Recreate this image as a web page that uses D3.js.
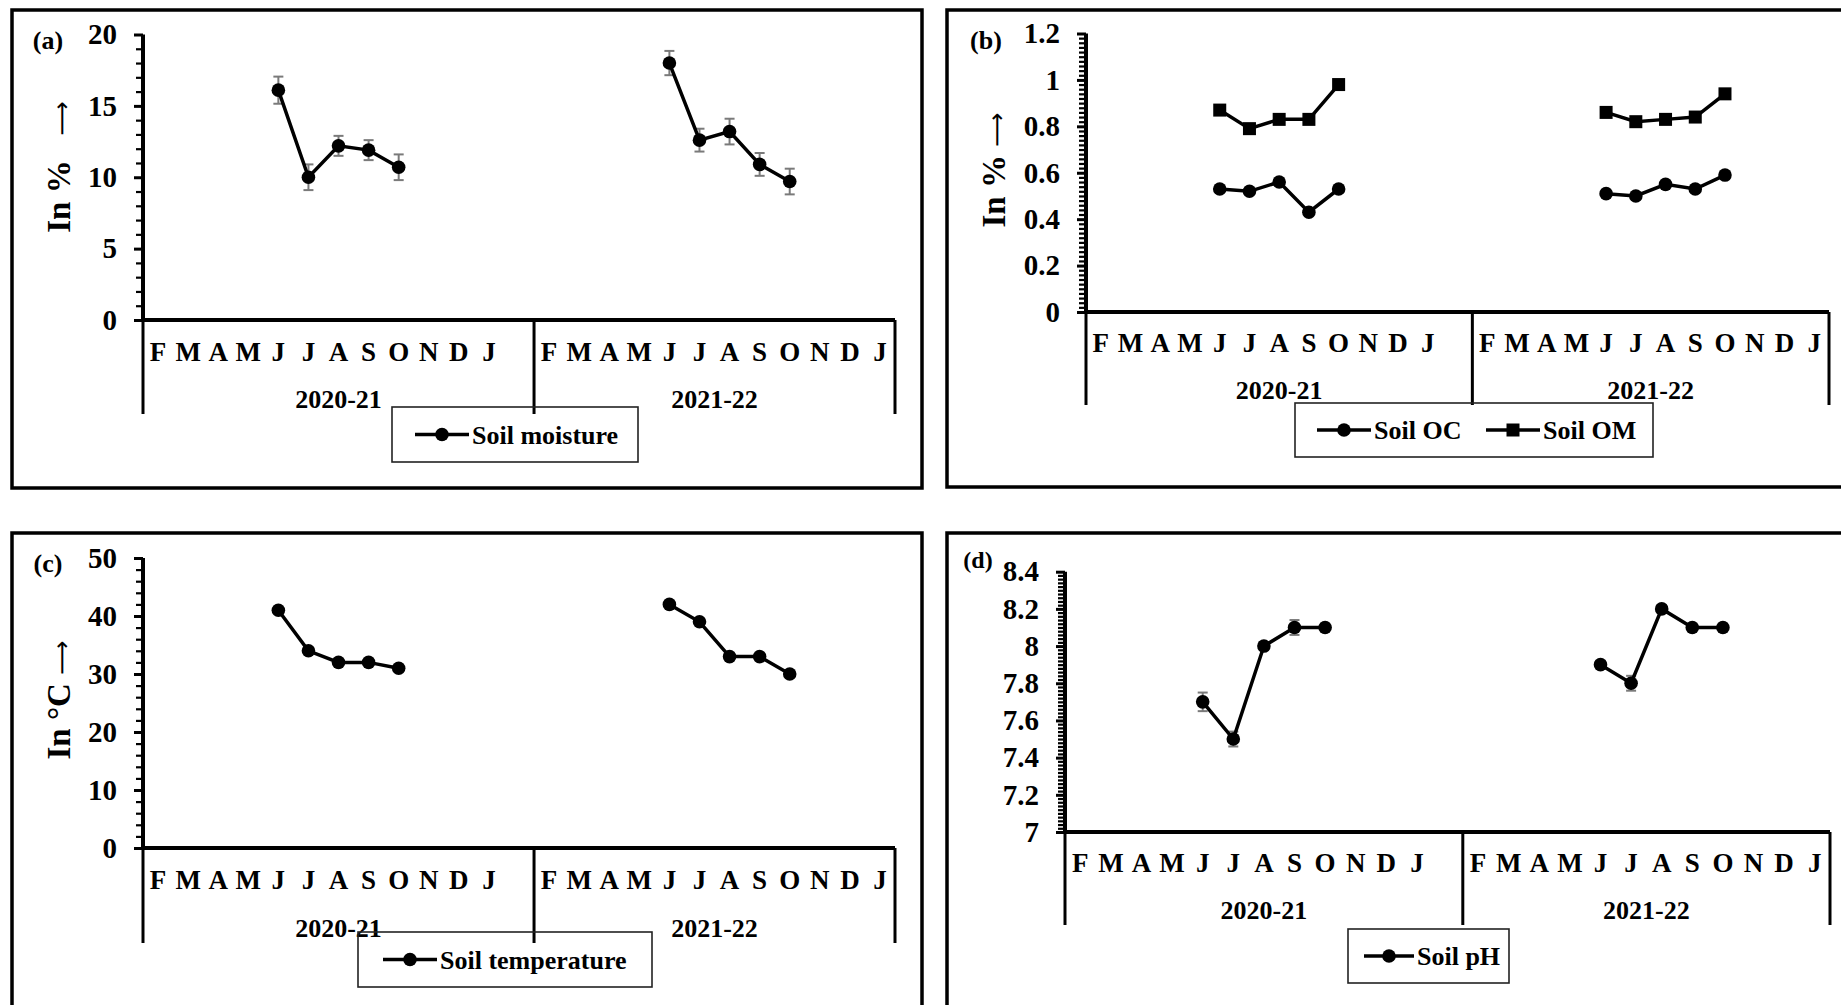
<!DOCTYPE html>
<html><head><meta charset="utf-8">
<script src="https://cdn.jsdelivr.net/npm/d3@7"></script>
<style>
body{margin:0;background:#fff}
svg{display:block}
text{font-family:"Liberation Serif","Times New Roman",serif;font-weight:bold;fill:#000}
</style>
</head><body>
<svg id="chart" width="1841" height="1005"></svg>
<script>
// ---------------- DATA ----------------
const seasons = ["2020-21", "2021-22"];
const months2020 = ["F","M","A","M","J","J","A","S","O","N","D","J",""];
const months2021 = ["F","M","A","M","J","J","A","S","O","N","D","J"];
const sampledMonthIndex = [4, 5, 6, 7, 8]; // June .. October in each season

const moisture2020 = [16.1, 10.0, 12.2, 11.9, 10.7];
const moisture2021 = [18.0, 12.6, 13.2, 10.9, 9.7];
const moistureErr2020 = [0.95, 0.9, 0.7, 0.7, 0.9];
const moistureErr2021 = [0.85, 0.8, 0.9, 0.8, 0.9];

const oc2020 = [0.53, 0.52, 0.56, 0.43, 0.53];
const oc2021 = [0.51, 0.50, 0.55, 0.53, 0.59];
const om2020 = [0.87, 0.79, 0.83, 0.83, 0.98];
const om2021 = [0.86, 0.82, 0.83, 0.84, 0.94];

const temp2020 = [41, 34, 32, 32, 31];
const temp2021 = [42, 39, 33, 33, 30];

const ph2020 = [7.7, 7.5, 8.0, 8.1, 8.1];
const ph2021 = [7.9, 7.8, 8.2, 8.1, 8.1];
const phErr2020 = [0.05, 0.04, 0.02, 0.04, 0.02];
const phErr2021 = [0.02, 0.04, 0.02, 0.02, 0.02];

const ticksA = [0, 5, 10, 15, 20];
const ticksB = [0, 0.2, 0.4, 0.6, 0.8, 1, 1.2];
const ticksC = [0, 10, 20, 30, 40, 50];
const ticksD = [7, 7.2, 7.4, 7.6, 7.8, 8, 8.2, 8.4];

// ---------------- LAYOUT ----------------
const svg = d3.select("#chart");
const FONT_TICK = 29, FONT_MONTH = 27, FONT_YEAR = 26, FONT_LEG = 26, FONT_TITLE = 33;

const panels = [
  { label:"(a)", labelX:48, labelY:40, labelSize:26,
    box:[12,10,922,488], ax:143, x1:895, yTop:34.5, y0:320,
    domain:[0,20], major:ticksA, minorStep:1, lineBottom:414, monthY:352, yearY:399,
    title:"In %   ", titleX:58, titleY:167,
    legendBox:[392,407,638,462],
    series:[{name:"Soil moisture", shape:"circle", v:[moisture2020, moisture2021], e:[moistureErr2020, moistureErr2021], legX:415, legLen:54}] },
  { label:"(b)", labelX:986, labelY:40, labelSize:26,
    box:[947,10,1852,487], ax:1086, x1:1829, yTop:33.5, y0:312,
    domain:[0,1.2], major:ticksB, minorStep:0.02, lineBottom:405, monthY:343, yearY:390,
    title:"In % ", titleX:993, titleY:170,
    legendBox:[1295,403,1653,457],
    series:[{name:"Soil OC", shape:"circle", v:[oc2020, oc2021], e:null, legX:1317, legLen:54},
            {name:"Soil OM", shape:"square", v:[om2020, om2021], e:null, legX:1486, legLen:54}] },
  { label:"(c)", labelX:48, labelY:563, labelSize:26,
    box:[12,533,922,1030], ax:143, x1:895, yTop:558, y0:848,
    domain:[0,50], major:ticksC, minorStep:2, lineBottom:943, monthY:880, yearY:928,
    title:"In \u00B0C ", titleX:58, titleY:700,
    legendBox:[358,932,652,987],
    series:[{name:"Soil temperature", shape:"circle", v:[temp2020, temp2021], e:null, legX:383, legLen:54}] },
  { label:"(d)", labelX:978, labelY:560, labelSize:24,
    box:[947,533,1852,1030], ax:1065, x1:1830, yTop:571.7, y0:832,
    domain:[7,8.4], major:ticksD, minorStep:0.02, lineBottom:925, monthY:863, yearY:910,
    title:null,
    legendBox:[1348,929,1509,983],
    series:[{name:"Soil pH", shape:"circle", v:[ph2020, ph2021], e:[phErr2020, phErr2021], legX:1364, legLen:50}] }
];

const fmt = d => String(+(+d).toFixed(2));

function drawMarker(g, shape, cx, cy) {
  if (shape === "square") {
    g.append("rect").attr("x", cx-6.5).attr("y", cy-6.5).attr("width", 13).attr("height", 13).attr("fill", "#000");
  } else {
    g.append("circle").attr("cx", cx).attr("cy", cy).attr("r", 6.8).attr("fill", "#000");
  }
}

panels.forEach(p => {
  const g = svg.append("g");
  g.append("rect").attr("x", p.box[0]).attr("y", p.box[1])
    .attr("width", p.box[2]-p.box[0]).attr("height", p.box[3]-p.box[1])
    .attr("fill", "none").attr("stroke", "#000").attr("stroke-width", 3.5);

  const keys = [];
  months2020.forEach((m,i) => keys.push(seasons[0]+"|"+i));
  months2021.forEach((m,i) => keys.push(seasons[1]+"|"+i));
  const x = d3.scaleBand().domain(keys).range([p.ax, p.x1]).padding(0);
  const y = d3.scaleLinear().domain(p.domain).range([p.y0, p.yTop]);

  const n = Math.round((p.domain[1]-p.domain[0])/p.minorStep);
  const minors = d3.range(0, n+1).map(i => +(p.domain[0] + i*p.minorStep).toFixed(4))
    .filter(v => !p.major.some(m => Math.abs(m-v) < 1e-6));
  const minorAxis = g.append("g").attr("transform", `translate(${p.ax},0)`)
    .call(d3.axisLeft(y).tickValues(minors).tickSize(7).tickFormat(""));
  minorAxis.select(".domain").remove();
  minorAxis.selectAll(".tick line").attr("stroke", "#000").attr("stroke-width", 2.2);

  const majorAxis = g.append("g").attr("transform", `translate(${p.ax},0)`)
    .call(d3.axisLeft(y).tickValues(p.major).tickSize(9).tickPadding(17).tickFormat(fmt));
  majorAxis.select(".domain").attr("stroke", "#000").attr("stroke-width", 4)
    .attr("d", `M0,${p.y0}V${p.yTop}`);
  majorAxis.selectAll(".tick line").attr("stroke", "#000").attr("stroke-width", 3);
  majorAxis.selectAll(".tick text").attr("font-size", FONT_TICK)
    .attr("font-family", '"Liberation Serif","Times New Roman",serif').attr("font-weight", "bold").attr("fill", "#000");

  const xAxis = g.append("g").attr("transform", `translate(0,${p.y0})`)
    .call(d3.axisBottom(x).tickSize(0).tickFormat(""));
  xAxis.select(".domain").attr("stroke", "#000").attr("stroke-width", 4).attr("d", `M${p.ax},0H${p.x1}`);
  const sepX = [p.ax, x(seasons[1]+"|0"), p.x1];
  g.selectAll(null).data(sepX).enter().append("line")
    .attr("x1", d => d).attr("x2", d => d).attr("y1", p.y0).attr("y2", p.lineBottom)
    .attr("stroke", "#000").attr("stroke-width", 3);

  const monthData = [];
  months2020.forEach((m,i) => monthData.push({k:seasons[0]+"|"+i, m}));
  months2021.forEach((m,i) => monthData.push({k:seasons[1]+"|"+i, m}));
  g.selectAll(null).data(monthData).enter().append("text")
    .attr("x", d => x(d.k) + x.bandwidth()/2).attr("y", p.monthY).attr("dy", "0.35em")
    .attr("text-anchor", "middle").attr("font-size", FONT_MONTH).text(d => d.m);

  const groups = [
    {s:seasons[0], a:p.ax, b:x(seasons[1]+"|0")},
    {s:seasons[1], a:x(seasons[1]+"|0"), b:p.x1}
  ];
  g.selectAll(null).data(groups).enter().append("text")
    .attr("x", d => (d.a+d.b)/2).attr("y", p.yearY).attr("dy", "0.35em")
    .attr("text-anchor", "middle").attr("font-size", FONT_YEAR).text(d => d.s);

  p.series.forEach(s => {
    s.v.forEach((vals, si) => {
      const pts = vals.map((v,i) => ({
        x: x(seasons[si]+"|"+sampledMonthIndex[i]) + x.bandwidth()/2,
        v, e: s.e ? s.e[si][i] : 0
      }));
      if (s.e) {
        pts.forEach(d => {
          const eb = g.append("g").attr("stroke", "#7a7a7a").attr("stroke-width", 2);
          eb.append("line").attr("x1", d.x).attr("x2", d.x).attr("y1", y(d.v-d.e)).attr("y2", y(d.v+d.e));
          eb.append("line").attr("x1", d.x-5).attr("x2", d.x+5).attr("y1", y(d.v-d.e)).attr("y2", y(d.v-d.e));
          eb.append("line").attr("x1", d.x-5).attr("x2", d.x+5).attr("y1", y(d.v+d.e)).attr("y2", y(d.v+d.e));
        });
      }
      g.append("path").datum(pts)
        .attr("d", d3.line().x(d => d.x).y(d => y(d.v)))
        .attr("fill", "none").attr("stroke", "#000").attr("stroke-width", 3.5);
      pts.forEach(d => drawMarker(g, s.shape, d.x, y(d.v)));
    });
  });

  if (p.title) {
    const t = g.append("text").attr("transform", `translate(${p.titleX},${p.titleY}) rotate(-90)`)
      .attr("text-anchor", "middle").attr("dy", "0.35em").attr("font-size", FONT_TITLE)
      .style("white-space", "pre");
    t.append("tspan").text(p.title);
    t.append("tspan").attr("font-family", '"DejaVu Sans",sans-serif').attr("font-weight", "normal")
      .attr("font-size", 24).text("\u27F6");
  }
  g.append("text").attr("x", p.labelX).attr("y", p.labelY).attr("dy", "0.35em")
    .attr("text-anchor", "middle").attr("font-size", p.labelSize).text(p.label);

  const lb = p.legendBox;
  g.append("rect").attr("x", lb[0]).attr("y", lb[1]).attr("width", lb[2]-lb[0]).attr("height", lb[3]-lb[1])
    .attr("fill", "none").attr("stroke", "#222").attr("stroke-width", 1.6);
  const ly = (lb[1]+lb[3])/2;
  p.series.forEach(s => {
    g.append("line").attr("x1", s.legX).attr("x2", s.legX+s.legLen).attr("y1", ly).attr("y2", ly)
      .attr("stroke", "#000").attr("stroke-width", 3.5);
    drawMarker(g, s.shape, s.legX+s.legLen/2, ly);
    g.append("text").attr("x", s.legX+s.legLen+3).attr("y", ly).attr("dy", "0.35em")
      .attr("font-size", FONT_LEG).text(s.name);
  });
});
</script>
</body></html>
